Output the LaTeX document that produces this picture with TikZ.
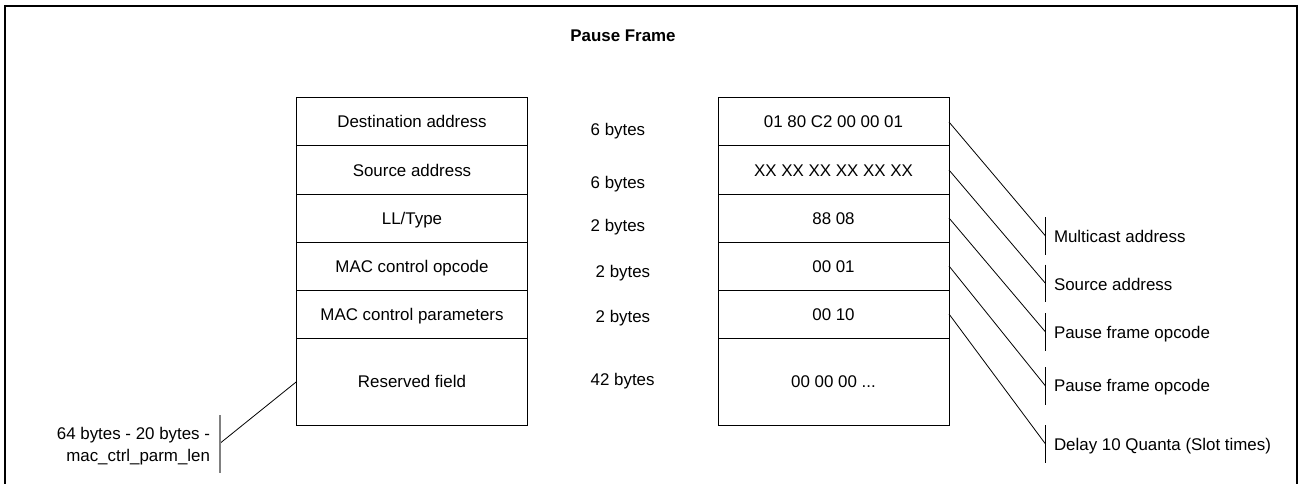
\documentclass[tikz,border=0pt]{standalone}
\usepackage{fontspec}
\setmainfont{Liberation Sans}
\begin{document}
\begin{tikzpicture}[x=1pt,y=-1pt,line width=1pt,
  txt/.style={font=\fontsize{16.9}{21.7}\selectfont,inner sep=0pt,outer sep=0pt,text height=12pt,text depth=0pt},
  cell/.style={txt,draw=black,minimum height=48pt,anchor=north},
  lcell/.style={cell,minimum width=230.5pt},
  rcell/.style={cell,minimum width=231pt},
  conn/.style={draw=black,line width=0.8pt},
  bar/.style={draw=black,line width=0.8pt},
  lbar/.style={draw=gray,line width=1.2pt},
  frameline/.style={draw=black,line width=2pt}]
\useasboundingbox (0,0) rectangle (1299,484);
% frame
\draw[frameline] (4,5.8) -- (1297.5,5.8);
\draw[frameline] (5,4.8) -- (5,484);
\draw[draw=black,line width=1.5pt] (1297,5) -- (1297,484);
% title
\node[txt,font=\fontsize{16.9}{20}\selectfont\bfseries] (title) at (623,36) {Pause Frame};
% left table
\node[lcell] (l1) at (412,98) {Destination address};
\node[lcell] (l2) at (412,146) {Source address};
\node[lcell] (l3) at (412,194) {LL/Type};
\node[lcell] (l4) at (412,242) {MAC control opcode};
\node[lcell] (l5) at (412,290) {MAC control parameters};
\node[lcell,minimum height=87pt] (l6) at (412,338) {Reserved field};
% sizes
\node[txt,anchor=west] (b1) at (590.7,129.3) {6 bytes};
\node[txt,anchor=west] (b2) at (590.7,182.3) {6 bytes};
\node[txt,anchor=west] (b3) at (590.7,225.7) {2 bytes};
\node[txt,anchor=west] (b4) at (595.7,271.7) {2 bytes};
\node[txt,anchor=west] (b5) at (595.7,316.7) {2 bytes};
\node[txt,anchor=west] (b6) at (590.7,379.3) {42 bytes};
% right table
\node[rcell] (r1) at (833.5,98) {01 80 C2 00 00 01};
\node[rcell] (r2) at (833.5,146) {XX XX XX XX XX XX};
\node[rcell] (r3) at (833.5,194) {88 08};
\node[rcell] (r4) at (833.5,242) {00 01};
\node[rcell] (r5) at (833.5,290) {00 10};
\node[rcell,minimum height=87pt] (r6) at (833.5,338) {00 00 00 ...};
% right annotations
\coordinate (e1) at (1045.5,236);
\coordinate (e2) at (1045.5,283.4);
\coordinate (e3) at (1045.5,332);
\coordinate (e4) at (1045.5,386);
\coordinate (e5) at (1045.5,444);
\draw[conn] (r1.east) -- (e1);
\draw[conn] (r2.east) -- (e2);
\draw[conn] (r3.east) -- (e3);
\draw[conn] (r4.east) -- (e4);
\draw[conn] (r5.east) -- (e5);
\foreach \e in {e1,e2,e3,e4,e5}{
  \draw[bar] (\e) ++(0,-18.9) -- ++(0,37.8);
}
\node[txt,anchor=west] (m1) at (1054,236) {Multicast address};
\node[txt,anchor=west] (m2) at (1054,284) {Source address};
\node[txt,anchor=west] (m3) at (1054,332.3) {Pause frame opcode};
\node[txt,anchor=west] (m4) at (1054,385.7) {Pause frame opcode};
\node[txt,anchor=west] (m5) at (1054,444.3) {Delay 10 Quanta (Slot times)};
% left annotation
\coordinate (e0) at (220,443.3);
\draw[conn] (l6.west) -- (e0);
\draw[lbar] (e0) ++(0,-28.3) -- ++(0,57.7);
\node[font=\fontsize{16.9}{21.7}\selectfont,align=right,anchor=north east,inner sep=0pt] (note) at (210.5,427) {64 bytes - 20 bytes -\\mac\_ctrl\_parm\_len};
\end{tikzpicture}
\end{document}
